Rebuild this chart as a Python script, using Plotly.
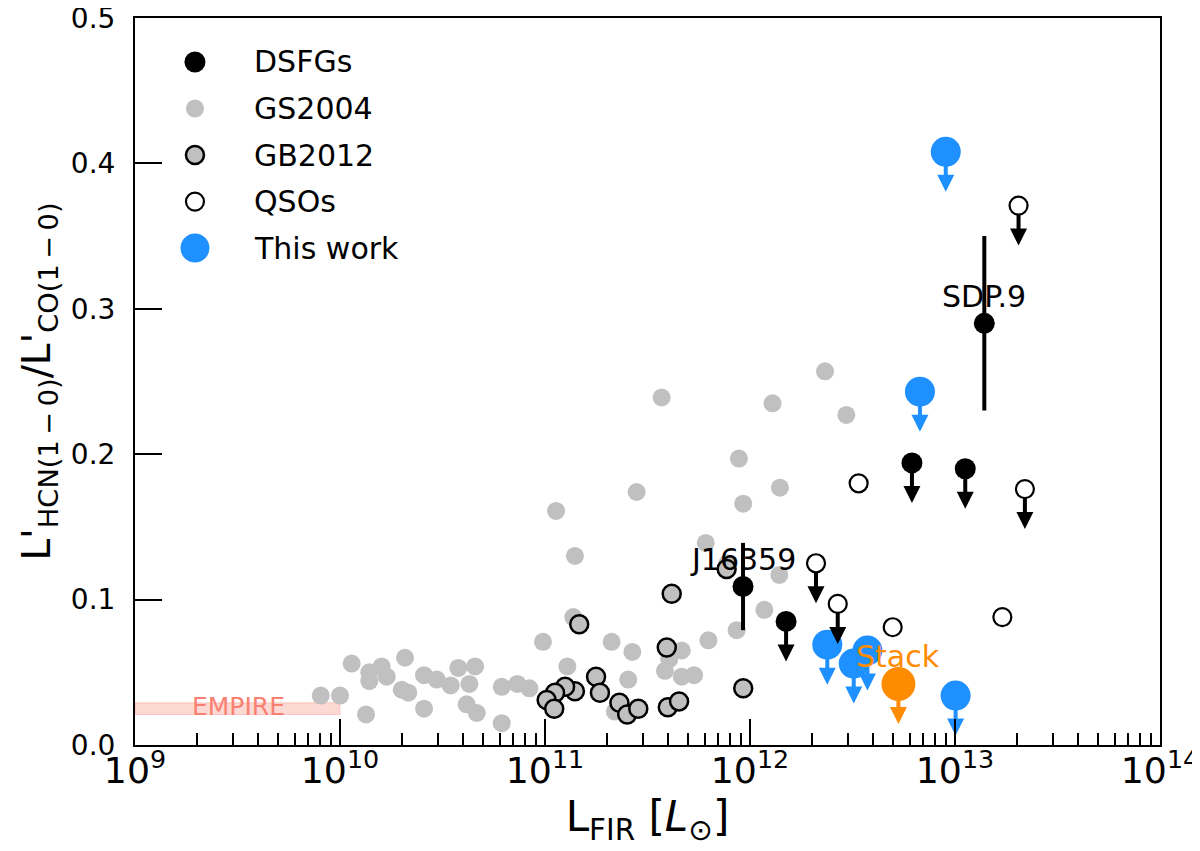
import plotly.graph_objects as go

# ================= DATA =================
# log10(L_FIR / Lsun) and L'HCN/L'CO ratios

# GS2004 (grey dots)
gs_logl = [9.906, 10.00, 10.057, 10.143, 10.203, 10.143, 10.228, 10.127, 10.317, 10.301,
           10.333, 10.41, 10.472, 10.41, 10.54, 10.577, 10.659, 10.631, 10.618, 10.667,
           10.789, 10.865, 10.924, 10.789, 10.99, 11.054, 11.569, 12.11, 12.47, 11.946,
           11.447, 12.146, 11.967, 11.146, 11.784, 11.89, 12.143, 11.138, 12.07, 11.935,
           11.325, 11.426, 11.797, 11.667, 11.109, 11.406, 11.585, 11.606, 11.667, 11.727,
           11.341, 12.366]
gs_ratio = [0.034, 0.034, 0.056, 0.050, 0.054, 0.044, 0.047, 0.021, 0.060, 0.038,
            0.036, 0.048, 0.045, 0.025, 0.041, 0.053, 0.054, 0.042, 0.028, 0.022,
            0.040, 0.042, 0.039, 0.015, 0.071, 0.161, 0.239, 0.235, 0.227, 0.197,
            0.174, 0.177, 0.166, 0.130, 0.139, 0.125, 0.117, 0.088, 0.093, 0.079,
            0.071, 0.064, 0.072, 0.065, 0.054, 0.045, 0.051, 0.059, 0.047, 0.048,
            0.023, 0.257]

# GB2012 (grey with black edge)
gb_logl = [11.618, 11.167, 11.594, 11.886, 11.967, 11.249, 11.268, 11.146, 11.098, 11.049,
           11.008, 11.045, 11.363, 11.401, 11.455, 11.599, 11.654]
gb_ratio = [0.104, 0.083, 0.067, 0.121, 0.039, 0.047, 0.036, 0.037, 0.040, 0.036,
            0.031, 0.025, 0.029, 0.021, 0.025, 0.026, 0.030]

# DSFGs
dsfg_names = ['J16359', 'SDP.9']
dsfg_logl = [11.966, 13.143]
dsfg_ratio = [0.109, 0.290]
dsfg_err = [0.030, 0.060]
dsfg_ul_logl = [12.79, 13.05, 12.176]
dsfg_ul_ratio = [0.194, 0.190, 0.085]

# QSOs
qso_logl = [12.53, 12.696, 13.231]
qso_ratio = [0.180, 0.081, 0.088]
qso_ul_logl = [13.31, 13.341, 12.322, 12.428]
qso_ul_ratio = [0.371, 0.176, 0.125, 0.097]

# This work (upper limits)
tw_logl = [12.955, 12.829, 12.377, 12.506, 12.573, 13.003]
tw_ratio = [0.408, 0.243, 0.069, 0.056, 0.065, 0.034]

# Stack (upper limit)
stack_logl = [12.724]
stack_ratio = [0.042]

# EMPIRE range
empire_l = [1e9, 1e10]
empire_ratio = [0.021, 0.029]

ARROW = 0.0275

legend_labels = ['DSFGs', 'GS2004', 'GB2012', 'QSOs', 'This work']

BLUE = '#1e90ff'
ORANGE = '#ff8c00'
SILVER = '#c0c0c0'
SALMON = '#fa8072'
FONT = 'DejaVu Sans'


def lin(logs):
    return [10 ** v for v in logs]


def add_uplims(fig, logl, ratio, color):
    xs, ys = [], []
    for a, b in zip(lin(logl), ratio):
        xs += [a, a, None]
        ys += [b, b - ARROW * 0.75, None]
    fig.add_trace(go.Scatter(x=xs, y=ys, mode='lines', line=dict(color=color, width=4),
                             showlegend=False, hoverinfo='skip'))
    fig.add_trace(go.Scatter(x=lin(logl), y=[b - ARROW for b in ratio], mode='markers',
                             marker=dict(symbol='arrow-down', size=17, color=color),
                             showlegend=False, hoverinfo='skip'))


# ================= FIGURA =================
fig = go.Figure()

# EMPIRE band
fig.add_trace(go.Scatter(
    x=[empire_l[0], empire_l[1], empire_l[1], empire_l[0], empire_l[0]],
    y=[empire_ratio[0], empire_ratio[0], empire_ratio[1], empire_ratio[1], empire_ratio[0]],
    fill='toself', fillcolor='rgba(250,128,114,0.3)',
    line=dict(color='rgba(250,128,114,0.35)', width=1),
    mode='lines', showlegend=False, hoverinfo='skip'))

fig.add_trace(go.Scatter(x=lin(gs_logl), y=gs_ratio, mode='markers', name='GS2004',
                         marker=dict(size=18, color=SILVER), showlegend=False))

fig.add_trace(go.Scatter(x=lin(gb_logl), y=gb_ratio, mode='markers', name='GB2012',
                         marker=dict(size=18, color=SILVER, line=dict(color='black', width=2.5)),
                         showlegend=False))

# this work
add_uplims(fig, tw_logl, tw_ratio, BLUE)
fig.add_trace(go.Scatter(x=lin(tw_logl), y=tw_ratio, mode='markers', name='This work',
                         marker=dict(size=30, color=BLUE), showlegend=False))

# DSFGs
add_uplims(fig, dsfg_ul_logl, dsfg_ul_ratio, 'black')
fig.add_trace(go.Scatter(x=lin(dsfg_ul_logl), y=dsfg_ul_ratio, mode='markers', name='DSFGs',
                         marker=dict(size=21, color='black'), showlegend=False))
fig.add_trace(go.Scatter(x=lin(dsfg_logl), y=dsfg_ratio, mode='markers', name='DSFGs',
                         marker=dict(size=21, color='black'),
                         error_y=dict(type='data', array=dsfg_err, color='black', thickness=4, width=0),
                         showlegend=False))

# QSOs
add_uplims(fig, qso_ul_logl, qso_ul_ratio, 'black')
fig.add_trace(go.Scatter(x=lin(qso_ul_logl + qso_logl), y=qso_ul_ratio + qso_ratio, mode='markers',
                         name='QSOs',
                         marker=dict(size=18, color='white', line=dict(color='black', width=2.2)),
                         showlegend=False))

# Stack
add_uplims(fig, stack_logl, stack_ratio, ORANGE)
fig.add_trace(go.Scatter(x=lin(stack_logl), y=stack_ratio, mode='markers', name='Stack',
                         marker=dict(size=34, color=ORANGE), showlegend=False))

# ================= LABELS =================
annotations = []
for name, lx, ly in zip(dsfg_names, dsfg_logl, dsfg_ratio):
    annotations.append(dict(x=lx, y=ly, text=name, showarrow=False, yshift=27,
                            font=dict(family=FONT, size=30, color='black')))
annotations.append(dict(x=stack_logl[0], y=stack_ratio[0], text='Stack', showarrow=False, yshift=27,
                        font=dict(family=FONT, size=30, color=ORANGE)))
annotations.append(dict(x=9.27, y=sum(empire_ratio) / 2, text='EMPIRE', showarrow=False,
                        xanchor='left', yshift=2,
                        font=dict(family=FONT, size=25, color=SALMON)))

# hand-made legend (matplotlib style markers)
leg_style = [
    dict(size=21, fill='black', edge='black', lw=0),
    dict(size=18, fill=SILVER, edge=SILVER, lw=0),
    dict(size=18, fill=SILVER, edge='black', lw=2.5),
    dict(size=18, fill='white', edge='black', lw=2.2),
    dict(size=29, fill=BLUE, edge=BLUE, lw=0),
]
shapes = []
for i, (lab, st) in enumerate(zip(legend_labels, leg_style)):
    yp = 0.9395 - i * 0.0640
    r = st['size'] / 2
    shapes.append(dict(type='circle', xref='paper', yref='paper',
                       xsizemode='pixel', ysizemode='pixel', xanchor=0.0585, yanchor=yp,
                       x0=-r, x1=r, y0=-r, y1=r, fillcolor=st['fill'],
                       line=dict(color=st['edge'], width=st['lw'])))
    annotations.append(dict(x=0.1141, y=yp, xref='paper', yref='paper', text=lab,
                            showarrow=False, xanchor='left', yanchor='middle',
                            font=dict(family=FONT, size=30, color='black')))

# ================= LAYOUT =================
# page adds 8px body margin, so the figure is 8px smaller
fig.update_layout(
    width=1192, height=843,
    margin=dict(l=127, r=40, t=10, b=106),
    plot_bgcolor='white', paper_bgcolor='white',
    font=dict(family=FONT, size=28, color='black'),
    showlegend=False,
    annotations=annotations,
    shapes=shapes,
    xaxis=dict(
        type='log', range=[9, 14], dtick=1, exponentformat='power',
        automargin=False, ticklabeloverflow='allow',
        showgrid=False, zeroline=False,
        showline=True, linecolor='black', linewidth=2, mirror=True,
        ticks='inside', ticklen=26, tickwidth=1.5, tickcolor='black', ticklabelstandoff=-6,
        minor=dict(ticks='inside', ticklen=12, tickwidth=1.5, tickcolor='black', dtick='D1', showgrid=False),
        tickfont=dict(family=FONT, size=29),
        title=dict(text='L<sub>FIR</sub> [<i>L</i><sub>⊙</sub>]', font=dict(family=FONT, size=42), standoff=6),
    ),
    yaxis=dict(
        range=[0, 0.5], dtick=0.1, tickformat='.1f',
        automargin=False, ticklabeloverflow='allow',
        showgrid=False, zeroline=False,
        showline=True, linecolor='black', linewidth=2, mirror=True,
        ticks='inside', ticklen=27, tickwidth=1.5, tickcolor='black', ticklabelstandoff=12,
        tickfont=dict(family=FONT, size=28),
        title=dict(text="L'<sub>HCN(1\u2009−\u20090)</sub>/L'<sub>CO(1\u2009−\u20090)</sub>",
                   font=dict(family=FONT, size=39), standoff=8),
    ),
)

fig.write_html("out.html")
